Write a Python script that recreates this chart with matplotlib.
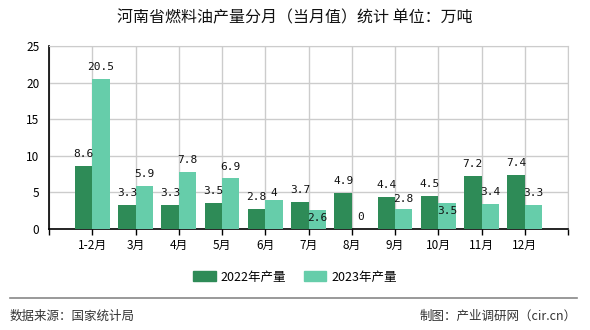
import matplotlib
matplotlib.use("Agg")
import matplotlib.pyplot as plt
from matplotlib.patches import Patch
from matplotlib.lines import Line2D
import numpy as np

plt.rcParams['font.family'] = ['Noto Sans CJK SC', 'DejaVu Sans']

months = ['1-2月', '3月', '4月', '5月', '6月', '7月', '8月', '9月', '10月', '11月', '12月']
prod_2022 = [8.6, 3.3, 3.3, 3.5, 2.8, 3.7, 4.9, 4.4, 4.5, 7.2, 7.4]
prod_2023 = [20.5, 5.9, 7.8, 6.9, 4, 2.6, 0, 2.8, 3.5, 3.4, 3.3]
series_names = ['2022年产量', '2023年产量']
title = '河南省燃料油产量分月（当月值）统计 单位：万吨'
source_text = '数据来源：国家统计局'
credit_text = '制图：产业调研网（cir.cn）'

c22 = '#2e8b57'
c23 = '#66cdaa'

fig = plt.figure(figsize=(5.9, 3.3), dpi=100)
ax = fig.add_axes([49 / 590, 1 - 229 / 330, 519 / 590, 183 / 330])

x = np.arange(1, len(months) + 1)
w = 0.4
b1 = ax.bar(x - w, prod_2022, w, align='edge', color=c22, zorder=3)
b2 = ax.bar(x, prod_2023, w, align='edge', color=c23, zorder=3)

# label offsets (points above bar top); a few were nudged in the original
off22 = [8.6] * len(prod_2022)
off23 = [8.6] * len(prod_2023)
off23[4] = 5
off23[5] = -5.8
off23[7] = 6.5
off23[8] = -5.8

lab_font = dict(family='DejaVu Sans Mono', fontsize=8, color='#111111')
for bars, vals, offs in [(b1, prod_2022, off22), (b2, prod_2023, off23)]:
    for r, v, o in zip(bars, vals, offs):
        ax.annotate(f'{v:g}', (r.get_x() + r.get_width() / 2, v),
                    xytext=(0, o), textcoords='offset points',
                    ha='center', va='center', zorder=5, **lab_font)

ax.set_xlim(0, len(months) + 1)
ax.set_ylim(0, 25)
ax.set_yticks(range(0, 26, 5))
ax.set_xticks(range(0, len(months) + 2))
ax.set_xticklabels([''] + months + [''])
ax.tick_params(axis='x', length=4, width=1, color='black', labelsize=8.5, pad=3)
ax.tick_params(axis='y', length=0, labelsize=8.5, pad=7)
ax.grid(True, color='#cccccc', linewidth=1, zorder=0)
ax.set_axisbelow(True)
for s in ['top', 'right']:
    ax.spines[s].set_color('#cccccc')
for s in ['left', 'bottom']:
    ax.spines[s].set_color('black')
    ax.spines[s].set_linewidth(1.2)

fig.text(0.5, 1 - 18 / 330, title, ha='center', va='center', fontsize=11.5,
         fontweight='medium', color='#111111')

handles = [Patch(color=c22), Patch(color=c23)]
fig.legend(handles, series_names, loc='center', bbox_to_anchor=(0.5, 1 - 277 / 330),
           ncol=2, frameon=False, fontsize=9, handlelength=1.8, handleheight=0.8,
           handletextpad=0.4, columnspacing=1.4)

fig.add_artist(Line2D([10 / 590, 577 / 590], [1 - 298 / 330] * 2, color='#888888', linewidth=1.2))
fig.text(10 / 590, 1 - 316 / 330, source_text, ha='left', va='center', fontsize=9, color='#333333')
fig.text(577 / 590, 1 - 316 / 330, credit_text, ha='right', va='center', fontsize=9, color='#333333')

fig.savefig('out.png', dpi=100)
